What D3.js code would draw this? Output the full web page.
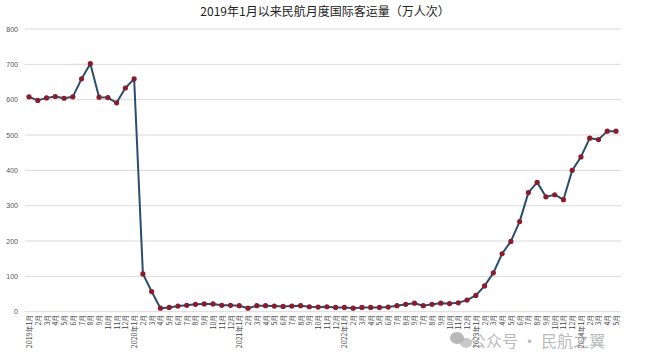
<!DOCTYPE html>
<html><head><meta charset="utf-8">
<script src="https://cdn.jsdelivr.net/npm/d3@7"></script>
<style>body{margin:0;background:#fff}svg{display:block}</style>
</head><body>
<svg id="c" width="655" height="364"></svg>
<script>
const title = "2019年1月以来民航月度国际客运量（万人次）";
const monthLabels = [
 "2019年1月","2月","3月","4月","5月","6月","7月","8月","9月","10月","11月","12月",
 "2020年1月","2月","3月","4月","5月","6月","7月","8月","9月","10月","11月","12月",
 "2021年1月","2月","3月","4月","5月","6月","7月","8月","9月","10月","11月","12月",
 "2022年1月","2月","3月","4月","5月","6月","7月","8月","9月","7月","8月","9月","10月","11月","12月",
 "2023年1月","2月","3月","4月","5月","6月","7月","8月","9月","10月","11月","12月",
 "2024年1月","2月","3月","4月","5月"
];
const passengers = [
 608,598,605,609,604,608,659,702,607,606,591,633,
 659,107,57,10,12,16,18,21,22,22,18,18,
 17,10,17,17,16,15,16,17,14,13,14,12,
 12,10,12,12,12,13,17,21,24,17,21,24,23,25,33,
 46,73,110,164,199,255,337,366,325,331,317,400,
 438,491,487,511,511
];
const yTicks = [0,100,200,300,400,500,600,700,800];

const svg = d3.select("#c");
const x0 = 25, x1 = 621, yTop = 29, yBot = 311.7;
const idx = d3.range(passengers.length);
const x = d3.scalePoint().domain(idx).range([29, 616]);
const y = d3.scaleLinear().domain([0, 800]).range([yBot, yTop]);

svg.append("text").attr("x", 325).attr("y", 16).attr("text-anchor","middle")
  .attr("font-family","'Noto Sans CJK SC', sans-serif").attr("font-size", 12)
  .attr("fill","#222").text(title);

// gridlines
svg.append("g").selectAll("line").data(yTicks).join("line")
  .attr("x1", x0).attr("x2", x1).attr("y1", d=>y(d)).attr("y2", d=>y(d))
  .attr("stroke", "#d9d9d9").attr("stroke-width", 1);

// y labels
svg.append("g").selectAll("text").data(yTicks).join("text")
  .attr("x", 18).attr("y", d=>y(d)+2.5).attr("text-anchor","end")
  .attr("font-family","'Liberation Sans', Arial, sans-serif").attr("font-size", 7)
  .attr("fill","#555").text(d=>d);

// x labels
const xAxis = d3.axisBottom(x).tickSize(0).tickFormat(i=>monthLabels[i]);
const gx = svg.append("g").attr("transform",`translate(0,${yBot})`).call(xAxis);
gx.select(".domain").remove();
gx.selectAll("text")
  .attr("font-family","'Noto Sans CJK SC', sans-serif").attr("font-size", 7)
  .attr("fill","#444")
  .attr("text-anchor","end").attr("dy", null).attr("y", 0)
  .attr("transform","translate(2.5,3) rotate(-90)")
  .attr("x", 0);

// line
const line = d3.line().x((d,i)=>x(i)).y(d=>y(d));
svg.append("path").datum(passengers).attr("d", line)
  .attr("fill","none").attr("stroke","#2b4d6e").attr("stroke-width", 2)
  .attr("stroke-linejoin","round");

svg.append("g").selectAll("circle").data(passengers).join("circle")
  .attr("cx",(d,i)=>x(i)).attr("cy", d=>y(d)).attr("r", 2.6)
  .attr("fill","#8a1c2c");

// watermark
svg.append("ellipse").attr("cx",457).attr("cy",338).attr("rx",7).attr("ry",6)
  .attr("fill","#9a9a9a").attr("fill-opacity",0.7);
svg.append("ellipse").attr("cx",466).attr("cy",343).attr("rx",6).attr("ry",5)
  .attr("fill","#b0b0b0").attr("fill-opacity",0.7);
svg.append("text").attr("x", 470).attr("y", 347)
  .attr("font-family","'Noto Sans CJK SC', sans-serif").attr("font-size", 16)
  .attr("fill","#9a9a9a").attr("fill-opacity",0.7).text("公众号 · 民航之翼");
</script>
</body></html>
